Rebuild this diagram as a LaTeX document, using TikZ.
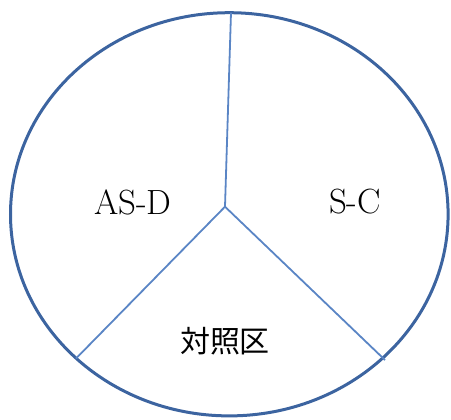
\documentclass[tikz,border=0pt]{standalone}
\usepackage{fontspec}
\newfontfamily\cjk{Noto Sans CJK JP}
\definecolor{rimblue}{HTML}{3C64A0}
\definecolor{spokeblue}{HTML}{5A85C5}
\begin{document}
\begin{tikzpicture}[x=1pt, y=-1pt,
        rim/.style={draw=rimblue, line width=3pt},
        spoke/.style={draw=spokeblue, line width=1.8pt},
        lbl/.style={font=\fontsize{35}{40}\selectfont}]
    \useasboundingbox (0, 0) rectangle (451, 420);
    %\draw[lightgray] (0, 0) grid[step=50] (451, 420);
    \draw[rim] (229.3, 214.3) ellipse[x radius=218.8, y radius=201.6];
    \coordinate (mid) at (225, 206.7);
    \coordinate (top) at (231, 12.7);
    \coordinate (lowleft) at (76, 358.5);
    \coordinate (lowright) at (385, 360);
    \draw[spoke] (top) -- (mid);
    \draw[spoke] (lowleft) -- (mid) -- (lowright);
    \node[lbl] (asd) at (133, 202) {AS-D};
    \node[lbl] (sc) at (355, 202) {S-C};
    \node[font=\cjk\fontsize{30}{34}\selectfont] (ctrl) at (225, 341) {対照区};
\end{tikzpicture}
\end{document}
